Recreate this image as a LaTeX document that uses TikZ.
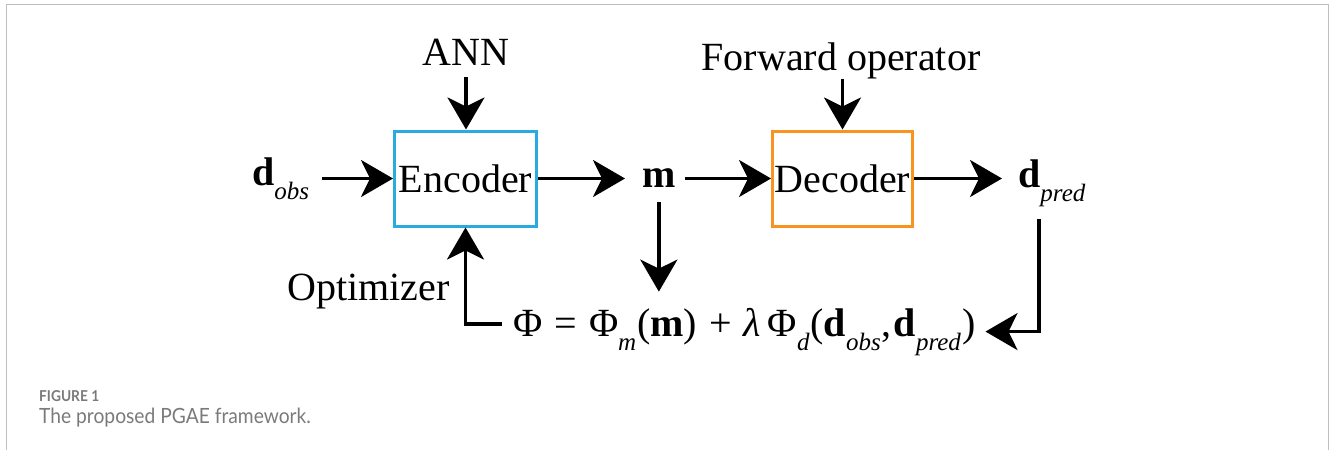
\documentclass[tikz,border=0pt]{standalone}
\usepackage{fontspec}
\setmainfont{Liberation Serif}
\newfontfamily\capfont[FakeStretch=0.915]{Lato}
\usetikzlibrary{arrows.meta}
\definecolor{encblue}{RGB}{41,171,226}
\definecolor{decorange}{RGB}{247,147,30}
\definecolor{framegray}{RGB}{190,190,190}
\definecolor{capgray}{RGB}{122,122,122}
% lowered italic subscript, as in the figure's labels
\newcommand{\lowsub}[1]{\raisebox{-14pt}{\fontsize{25}{25}\selectfont\itshape #1}}
\begin{document}
\begin{tikzpicture}[x=1pt,y=-1pt,
  txt/.style={inner sep=0pt, font=\fontsize{40}{44}\selectfont},
  blk/.style={draw, line width=3pt, minimum height=95pt, inner sep=0pt,
              font=\fontsize{40}{44}\selectfont},
  arr/.style={line width=3.5pt, -{Stealth[length=32pt,width=37pt,inset=9pt]}},
  captxt/.style={anchor=base west, inner sep=0pt, text=capgray}]
\useasboundingbox (0,0) rectangle (1332,450);
% outer frame, open at the bottom
\draw[framegray, line width=1.2pt] (6.5,450) -- (6.5,4.5) -- (1328.5,4.5) -- (1328.5,450);

% labels and blocks
\node[txt, anchor=base] (ann) at (466,65) {ANN};
\node[txt, anchor=base] (fwd) at (841,70) {Forward operator};
\node[blk, draw=encblue, minimum width=142pt] (enc) at (465.5,178.5) {Encoder};
\node[blk, draw=decorange, minimum width=140pt] (dec) at (842.5,178.5) {Decoder};
\node[txt, anchor=base west] (dobs) at (252,185) {\textbf{d}\lowsub{obs}};
\node[txt, anchor=base west] (m) at (642,187) {\textbf{m}};
\node[txt, anchor=base west] (dpred) at (1018,187) {\textbf{d}\lowsub{pred}};
\node[txt, anchor=base west] (phi) at (513,336)
  {\spaceskip=0.3em Φ = Φ\lowsub{m}\kern1pt(\textbf{m}) + \textit{λ}\,Φ\lowsub{d}\kern1pt(\textbf{d}\lowsub{obs}\kern1pt,\kern2pt\textbf{d}\lowsub{pred}\kern2pt)};
\node[txt, anchor=base west] (opt) at (287,300) {Optimizer};

% connectors
\draw[arr, shorten <=12pt] (ann.south) -- (ann.south |- enc.north);
\draw[arr] (fwd.south -| dec.north) -- (dec.north);
\draw[arr, shorten <=13pt] (enc.west -| dobs.east) -- (enc.west);
\draw[arr, shorten >=17pt] (enc.east) -- (enc.east -| m.west);
\draw[arr, shorten <=9pt] (m.east |- dec.west) -- (dec.west);
\draw[arr, shorten >=16pt] (dec.east) -- (dec.east -| dpred.west);
\draw[arr, shorten <=15pt, shorten >=16pt] (m.south) -- (m.south |- phi.north);
\draw[arr, shorten <=12pt, shorten >=9pt] ([xshift=-13pt]dpred.south) |- (phi.east);
\draw[arr, shorten <=11pt] ([yshift=7.5pt]phi.west) -| (enc.south);

% caption
\node[captxt, font=\capfont\bfseries\fontsize{15}{15}\selectfont] (figno) at (39,401) {FIGURE 1};
\node[captxt, font=\capfont\fontsize{21}{21}\selectfont] (cap) at (39,423) {The proposed PGAE framework.};
\end{tikzpicture}
\end{document}
